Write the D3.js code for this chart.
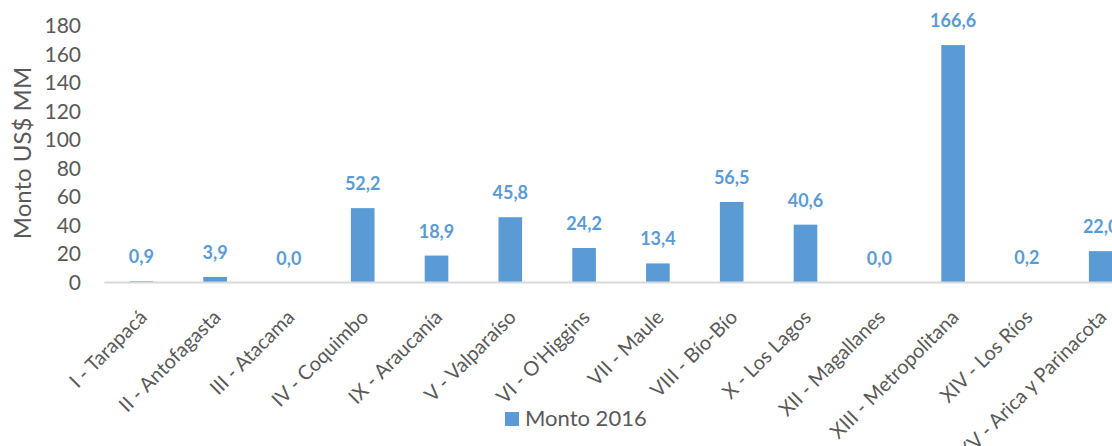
<!DOCTYPE html>
<html>
<head>
<meta charset="utf-8">
<script src="https://cdn.jsdelivr.net/npm/d3@7"></script>
<style>
  body { margin: 0; background: #fff; }
  svg { display: block; font-family: Lato, "Open Sans", sans-serif; }
</style>
</head>
<body>
<div id="chart"></div>
<script>
const regions = ["I - Tarapacá", "II - Antofagasta", "III - Atacama", "IV - Coquimbo",
  "IX - Araucanía", "V - Valparaíso", "VI - O'Higgins", "VII - Maule", "VIII -  Bío-Bío",
  "X - Los Lagos", "XII - Magallanes", "XIII - Metropolitana", "XIV - Los Ríos",
  "XV - Arica y Parinacota"];
const monto2016 = [0.9, 3.9, 0.0, 52.2, 18.9, 45.8, 24.2, 13.4, 56.5, 40.6, 0.0, 166.6, 0.2, 22.0];
const yTicks = [0, 20, 40, 60, 80, 100, 120, 140, 160, 180];
const seriesName = "Monto 2016";

const width = 1112, height = 446;
const barColor = "#5B9BD5", textColor = "#595959";

const data = regions.map((r, i) => ({region: r, value: monto2016[i]}));

const svg = d3.select("#chart").append("svg")
    .attr("width", width)
    .attr("height", height);

let x = d3.scaleBand()
    .domain(regions)
    .range([104.4, 104.4 + 14 * 73.8])
    .paddingInner(0.68)
    .paddingOuter(0.34);

let y = d3.scaleLinear()
    .domain([0, 180])
    .range([282.5, 26]);

let fmt = v => d3.format(".1f")(v).replace(".", ",");

// y axis labels
svg.append("g")
    .attr("transform", "translate(81,0)")
    .call(d3.axisLeft(y).tickValues(yTicks).tickSize(0).tickPadding(0))
    .call(g => g.select(".domain").remove())
    .call(g => g.selectAll("text")
        .attr("font-family", "Lato, sans-serif")
        .attr("font-size", "21px")
        .attr("fill", textColor));

svg.append("text")
    .attr("transform", "translate(31,153) rotate(-90)")
    .attr("text-anchor", "middle")
    .attr("font-size", "24px")
    .attr("fill", textColor)
    .text("Monto US$ MM");

// bars
svg.append("g")
  .selectAll("rect")
  .data(data)
  .enter().append("rect")
    .attr("x", d => x(d.region))
    .attr("width", x.bandwidth())
    .attr("y", d => y(d.value))
    .attr("height", d => y(0) - y(d.value))
    .attr("fill", barColor);

// x axis line + labels
svg.append("g")
    .attr("transform", `translate(0,${y(0)})`)
    .call(d3.axisBottom(x).tickSize(0).tickPadding(0))
    .call(g => g.select(".domain")
        .attr("stroke", "#D9D9D9")
        .attr("stroke-width", 2)
        .attr("d", `M104.4,0H${width}`))
    .call(g => g.selectAll("text")
        .attr("font-family", "Lato, sans-serif")
        .attr("font-size", "20px")
        .attr("fill", textColor)
        .attr("text-anchor", "end")
        .attr("dy", null)
        .attr("transform", "translate(7,36) rotate(-45)"));

// value labels
svg.append("g")
  .selectAll("text")
  .data(data)
  .enter().append("text")
    .attr("x", d => x(d.region) + x.bandwidth() / 2)
    .attr("y", d => y(d.value) - 18)
    .attr("text-anchor", "middle")
    .attr("font-size", "18px")
    .attr("font-weight", "bold")
    .attr("fill", barColor)
    .text(d => fmt(d.value));

// legend
let legend = svg.append("g").attr("transform", "translate(505,412)");
legend.append("rect")
    .attr("width", 14).attr("height", 14)
    .attr("fill", barColor);
legend.append("text")
    .attr("x", 20).attr("y", 14)
    .attr("font-size", "22px")
    .attr("fill", textColor)
    .text(seriesName);
</script>
</body>
</html>
